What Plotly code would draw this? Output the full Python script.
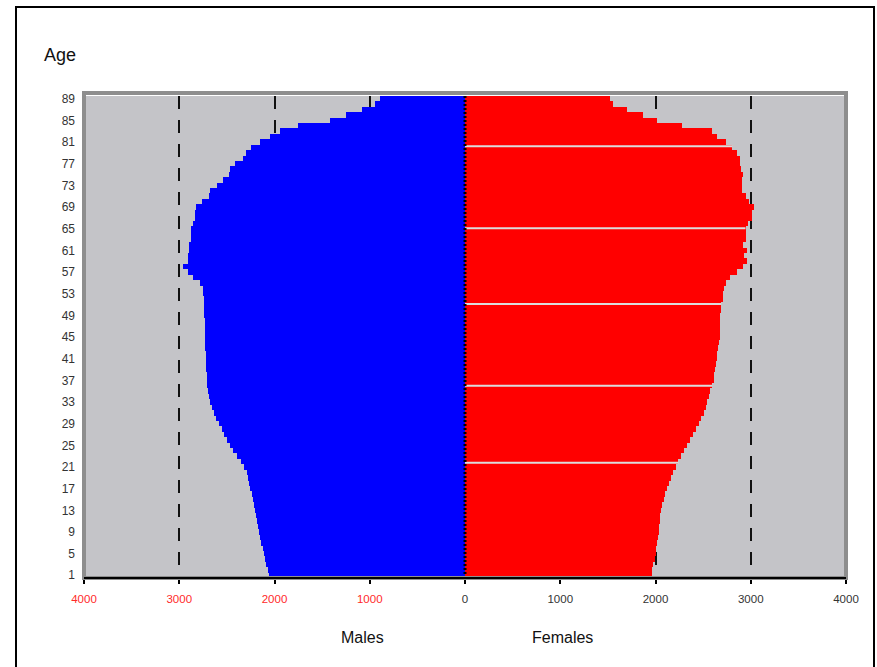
import plotly.graph_objects as go

# Ages 1..89
ages = list(range(1, 90))

# Male population by age (age 1 .. 89), plotted to the left
males = [2060, 2070, 2085, 2100, 2112, 2125, 2140, 2150, 2160, 2170,
         2180, 2190, 2200, 2212, 2225, 2240, 2255, 2265, 2275, 2290,
         2320, 2350, 2395, 2437, 2470, 2500, 2525, 2548, 2580, 2611,
         2635, 2660, 2680, 2692, 2700, 2705, 2710, 2713, 2716, 2718,
         2720, 2722, 2725, 2728, 2730, 2730, 2725, 2725, 2735, 2735,
         2735, 2735, 2750, 2755, 2785, 2860, 2910, 2965, 2905, 2905,
         2900, 2900, 2880, 2875, 2875, 2860, 2835, 2830, 2825, 2760,
         2690, 2680, 2600, 2545, 2475, 2470, 2420, 2330, 2300, 2245,
         2155, 2050, 1945, 1755, 1420, 1245, 1085, 945, 890]

# Female population by age (age 1 .. 89), plotted to the right
females = [1960, 1965, 1975, 1990, 2000, 2010, 2020, 2030, 2035, 2040,
           2045, 2050, 2060, 2070, 2085, 2100, 2120, 2140, 2160, 2185,
           2210, 2240, 2265, 2295, 2330, 2360, 2395, 2425, 2455, 2480,
           2505, 2530, 2545, 2560, 2575, 2595, 2610, 2618, 2625, 2635,
           2645, 2650, 2660, 2668, 2674, 2678, 2680, 2680, 2682, 2685,
           2690, 2705, 2710, 2720, 2735, 2785, 2855, 2920, 2960, 2925,
           2960, 2920, 2945, 2945, 2945, 2975, 3015, 3015, 3030, 2980,
           2945, 2910, 2910, 2910, 2920, 2895, 2890, 2890, 2855, 2805,
           2735, 2650, 2595, 2280, 2015, 1870, 1700, 1555, 1525]

# light separator streaks visible across the female bars
gap_ages = [21.8, 36.0, 51.1, 65.1, 80.2]

x_tick_vals = [-4000, -3000, -2000, -1000, 0, 1000, 2000, 3000, 4000]
x_tick_labels = ["4000", "3000", "2000", "1000", "0", "1000", "2000", "3000", "4000"]
y_tick_vals = list(range(1, 90, 4))

W, H = 877, 667
L, R, T, B = 84, 31, 96, 89
pw, ph = W - L - R, H - T - B


def px_x(px):
    return (px - L) / pw


def px_y(py):
    return (H - B - py) / ph


red_lbl = "#ff2a2a"
ticktext = []
for v, t in zip(x_tick_vals, x_tick_labels):
    if v < 0:
        ticktext.append(f'<span style="color:{red_lbl}">{t}</span>')
    else:
        ticktext.append(t)

fig = go.Figure()
fig.add_trace(go.Bar(y=ages, x=[-m for m in males], orientation="h",
                     marker=dict(color="#0000ff", line=dict(width=0)),
                     name="Males", showlegend=False))
fig.add_trace(go.Bar(y=ages, x=females, orientation="h",
                     marker=dict(color="#ff0000", line=dict(width=0)),
                     name="Females", showlegend=False))

shapes = []
# separator streaks on the female side
for g in gap_ages:
    idx = int(round(g)) - 1
    shapes.append(dict(type="line", xref="x", yref="y", x0=0, x1=females[idx],
                       y0=g, y1=g, line=dict(color="#dcdcdc", width=2),
                       layer="above"))
# dotted centre line
shapes.append(dict(type="line", xref="x", yref="paper", x0=0, x1=0, y0=0, y1=1,
                   line=dict(color="black", width=3, dash="2px,2px"), layer="above"))
# plot area border (gray)
shapes.append(dict(type="rect", xref="paper", yref="paper", x0=0, x1=1, y0=0, y1=1.006,
                   line=dict(color="#8e8e8e", width=4), layer="above"))
# bottom axis line black
shapes.append(dict(type="line", xref="paper", yref="paper", x0=0, x1=1, y0=0, y1=0,
                   line=dict(color="black", width=2), layer="above"))
# outer frame
shapes.append(dict(type="rect", xref="paper", yref="paper",
                   x0=px_x(16), x1=px_x(874), y0=px_y(720), y1=px_y(7),
                   line=dict(color="black", width=2), layer="above"))

annotations = [
    dict(text="Age", xref="paper", yref="paper", x=px_x(60), y=px_y(55),
         xanchor="center", yanchor="middle",
         showarrow=False, font=dict(size=18, color="#111111", family="Liberation Sans")),
    dict(text="Males", xref="paper", yref="paper", x=px_x(362), y=px_y(637),
         xanchor="center", yanchor="middle",
         showarrow=False, font=dict(size=16, color="#111111", family="Liberation Sans")),
    dict(text="Females", xref="paper", yref="paper", x=px_x(562), y=px_y(637),
         xanchor="center", yanchor="middle",
         showarrow=False, font=dict(size=16, color="#111111", family="Liberation Sans")),
]

fig.update_layout(
    width=W, height=H,
    margin=dict(l=L, r=R, t=T, b=B, pad=0),
    paper_bgcolor="white",
    plot_bgcolor="#c4c4c8",
    barmode="relative",
    bargap=0,
    shapes=shapes,
    annotations=annotations,
    font=dict(family="Liberation Sans", size=11, color="#333333"),
    xaxis=dict(range=[-4000, 4000], tickvals=x_tick_vals, ticktext=ticktext,
               showgrid=True, gridcolor="#111111", gridwidth=2, griddash="13px,11px",
               zeroline=False, showline=False,
               ticks="outside", ticklen=5, tickwidth=1.5, tickcolor="black",
               ticklabelstandoff=5,
               tickfont=dict(size=11.5, color="#333333", family="Liberation Sans")),
    yaxis=dict(range=[0.5, 89.5], tickvals=y_tick_vals,
               showgrid=False, zeroline=False, showline=False,
               ticks="", ticklabelstandoff=8,
               tickfont=dict(size=12, color="#333333", family="Liberation Sans")),
)

fig.write_html("out.html",
               config={"displayModeBar": False},
               post_script="document.body.style.margin='0';document.body.style.overflow='hidden';")
